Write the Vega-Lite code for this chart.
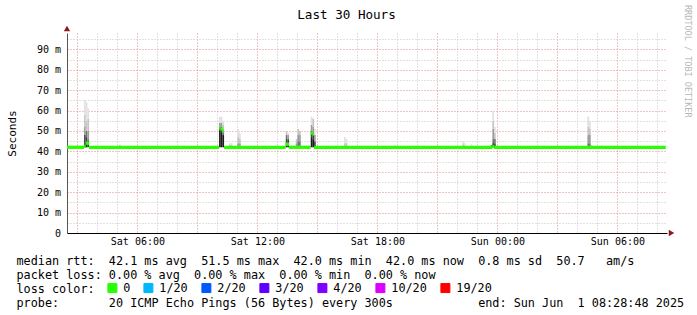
{
  "$schema": "https://vega.github.io/schema/vega-lite/v6.json",
  "width": 600,
  "height": 200,
  "autosize": {"type": "none"},
  "padding": {"left": 67, "top": 33, "right": 30, "bottom": 82},
  "background": "#ffffff",
  "config": {"view": {"stroke": null}},
  "datasets": {
    "smoke": [
      {"t":"2025-05-31T05:05","t2":"2025-05-31T05:10","lo":0.042,"hi":0.0433,"b":2},
      {"t":"2025-05-31T03:20","t2":"2025-05-31T03:25","lo":0.042,"hi":0.044,"b":6},
      {"t":"2025-05-31T03:20","t2":"2025-05-31T03:25","lo":0.044,"hi":0.048,"b":5},
      {"t":"2025-05-31T03:20","t2":"2025-05-31T03:25","lo":0.048,"hi":0.052,"b":3},
      {"t":"2025-05-31T03:20","t2":"2025-05-31T03:25","lo":0.052,"hi":0.058,"b":2},
      {"t":"2025-05-31T03:20","t2":"2025-05-31T03:25","lo":0.058,"hi":0.065,"b":1},
      {"t":"2025-05-31T03:25","t2":"2025-05-31T03:30","lo":0.042,"hi":0.044,"b":6},
      {"t":"2025-05-31T03:25","t2":"2025-05-31T03:30","lo":0.044,"hi":0.047,"b":5},
      {"t":"2025-05-31T03:25","t2":"2025-05-31T03:30","lo":0.047,"hi":0.050,"b":4},
      {"t":"2025-05-31T03:25","t2":"2025-05-31T03:30","lo":0.050,"hi":0.055,"b":2},
      {"t":"2025-05-31T03:25","t2":"2025-05-31T03:30","lo":0.055,"hi":0.064,"b":1},
      {"t":"2025-05-31T03:30","t2":"2025-05-31T03:35","lo":0.042,"hi":0.044,"b":5},
      {"t":"2025-05-31T03:30","t2":"2025-05-31T03:35","lo":0.044,"hi":0.046,"b":4},
      {"t":"2025-05-31T03:30","t2":"2025-05-31T03:35","lo":0.046,"hi":0.050,"b":3},
      {"t":"2025-05-31T03:30","t2":"2025-05-31T03:35","lo":0.050,"hi":0.056,"b":2},
      {"t":"2025-05-31T03:30","t2":"2025-05-31T03:35","lo":0.056,"hi":0.061,"b":1},
      {"t":"2025-05-31T10:05","t2":"2025-05-31T10:10","lo":0.042,"hi":0.050,"b":6},
      {"t":"2025-05-31T10:05","t2":"2025-05-31T10:10","lo":0.050,"hi":0.052,"b":5},
      {"t":"2025-05-31T10:05","t2":"2025-05-31T10:10","lo":0.052,"hi":0.054,"b":3},
      {"t":"2025-05-31T10:05","t2":"2025-05-31T10:10","lo":0.054,"hi":0.057,"b":1},
      {"t":"2025-05-31T10:10","t2":"2025-05-31T10:15","lo":0.042,"hi":0.049,"b":6},
      {"t":"2025-05-31T10:10","t2":"2025-05-31T10:15","lo":0.049,"hi":0.052,"b":5},
      {"t":"2025-05-31T10:10","t2":"2025-05-31T10:15","lo":0.052,"hi":0.054,"b":3},
      {"t":"2025-05-31T10:10","t2":"2025-05-31T10:15","lo":0.054,"hi":0.057,"b":1},
      {"t":"2025-05-31T10:15","t2":"2025-05-31T10:20","lo":0.042,"hi":0.048,"b":6},
      {"t":"2025-05-31T10:15","t2":"2025-05-31T10:20","lo":0.048,"hi":0.050,"b":4},
      {"t":"2025-05-31T10:15","t2":"2025-05-31T10:20","lo":0.050,"hi":0.053,"b":2},
      {"t":"2025-05-31T10:15","t2":"2025-05-31T10:20","lo":0.053,"hi":0.055,"b":1},
      {"t":"2025-05-31T10:35","t2":"2025-05-31T10:40","lo":0.042,"hi":0.043,"b":3},
      {"t":"2025-05-31T10:35","t2":"2025-05-31T10:40","lo":0.043,"hi":0.044,"b":1},
      {"t":"2025-05-31T10:40","t2":"2025-05-31T10:45","lo":0.042,"hi":0.043,"b":2},
      {"t":"2025-05-31T10:40","t2":"2025-05-31T10:45","lo":0.043,"hi":0.044,"b":1},
      {"t":"2025-05-31T11:00","t2":"2025-05-31T11:05","lo":0.042,"hi":0.044,"b":3},
      {"t":"2025-05-31T11:00","t2":"2025-05-31T11:05","lo":0.044,"hi":0.047,"b":2},
      {"t":"2025-05-31T11:00","t2":"2025-05-31T11:05","lo":0.047,"hi":0.051,"b":1},
      {"t":"2025-05-31T11:05","t2":"2025-05-31T11:10","lo":0.042,"hi":0.044,"b":3},
      {"t":"2025-05-31T11:05","t2":"2025-05-31T11:10","lo":0.044,"hi":0.046,"b":2},
      {"t":"2025-05-31T11:05","t2":"2025-05-31T11:10","lo":0.046,"hi":0.049,"b":1},
      {"t":"2025-05-31T13:25","t2":"2025-05-31T13:30","lo":0.042,"hi":0.044,"b":6},
      {"t":"2025-05-31T13:25","t2":"2025-05-31T13:30","lo":0.044,"hi":0.046,"b":5},
      {"t":"2025-05-31T13:25","t2":"2025-05-31T13:30","lo":0.046,"hi":0.048,"b":4},
      {"t":"2025-05-31T13:25","t2":"2025-05-31T13:30","lo":0.048,"hi":0.050,"b":2},
      {"t":"2025-05-31T13:30","t2":"2025-05-31T13:35","lo":0.042,"hi":0.044,"b":6},
      {"t":"2025-05-31T13:30","t2":"2025-05-31T13:35","lo":0.044,"hi":0.046,"b":5},
      {"t":"2025-05-31T13:30","t2":"2025-05-31T13:35","lo":0.046,"hi":0.048,"b":3},
      {"t":"2025-05-31T13:30","t2":"2025-05-31T13:35","lo":0.048,"hi":0.049,"b":1},
      {"t":"2025-05-31T13:55","t2":"2025-05-31T14:00","lo":0.042,"hi":0.044,"b":3},
      {"t":"2025-05-31T13:55","t2":"2025-05-31T14:00","lo":0.044,"hi":0.046,"b":2},
      {"t":"2025-05-31T14:00","t2":"2025-05-31T14:05","lo":0.042,"hi":0.045,"b":4},
      {"t":"2025-05-31T14:00","t2":"2025-05-31T14:05","lo":0.045,"hi":0.048,"b":3},
      {"t":"2025-05-31T14:00","t2":"2025-05-31T14:05","lo":0.048,"hi":0.051,"b":2},
      {"t":"2025-05-31T14:05","t2":"2025-05-31T14:10","lo":0.042,"hi":0.045,"b":4},
      {"t":"2025-05-31T14:05","t2":"2025-05-31T14:10","lo":0.045,"hi":0.048,"b":3},
      {"t":"2025-05-31T14:05","t2":"2025-05-31T14:10","lo":0.048,"hi":0.050,"b":2},
      {"t":"2025-05-31T14:40","t2":"2025-05-31T14:45","lo":0.042,"hi":0.047,"b":6},
      {"t":"2025-05-31T14:40","t2":"2025-05-31T14:45","lo":0.047,"hi":0.050,"b":5},
      {"t":"2025-05-31T14:40","t2":"2025-05-31T14:45","lo":0.050,"hi":0.053,"b":3},
      {"t":"2025-05-31T14:40","t2":"2025-05-31T14:45","lo":0.053,"hi":0.057,"b":1},
      {"t":"2025-05-31T14:45","t2":"2025-05-31T14:50","lo":0.042,"hi":0.046,"b":6},
      {"t":"2025-05-31T14:45","t2":"2025-05-31T14:50","lo":0.046,"hi":0.049,"b":5},
      {"t":"2025-05-31T14:45","t2":"2025-05-31T14:50","lo":0.049,"hi":0.052,"b":3},
      {"t":"2025-05-31T14:45","t2":"2025-05-31T14:50","lo":0.052,"hi":0.056,"b":2},
      {"t":"2025-05-31T14:50","t2":"2025-05-31T14:55","lo":0.042,"hi":0.045,"b":5},
      {"t":"2025-05-31T14:50","t2":"2025-05-31T14:55","lo":0.045,"hi":0.048,"b":3},
      {"t":"2025-05-31T14:50","t2":"2025-05-31T14:55","lo":0.048,"hi":0.051,"b":1},
      {"t":"2025-05-31T16:20","t2":"2025-05-31T16:25","lo":0.042,"hi":0.044,"b":2},
      {"t":"2025-05-31T16:20","t2":"2025-05-31T16:25","lo":0.044,"hi":0.047,"b":1},
      {"t":"2025-05-31T16:25","t2":"2025-05-31T16:30","lo":0.042,"hi":0.044,"b":2},
      {"t":"2025-05-31T16:25","t2":"2025-05-31T16:30","lo":0.044,"hi":0.046,"b":1},
      {"t":"2025-05-31T18:50","t2":"2025-05-31T18:55","lo":0.042,"hi":0.0433,"b":1},
      {"t":"2025-05-31T22:15","t2":"2025-05-31T22:20","lo":0.042,"hi":0.0435,"b":2},
      {"t":"2025-05-31T22:15","t2":"2025-05-31T22:20","lo":0.0435,"hi":0.045,"b":1},
      {"t":"2025-05-31T22:20","t2":"2025-05-31T22:25","lo":0.042,"hi":0.044,"b":1},
      {"t":"2025-05-31T22:40","t2":"2025-05-31T22:45","lo":0.042,"hi":0.0435,"b":1},
      {"t":"2025-05-31T23:40","t2":"2025-05-31T23:45","lo":0.042,"hi":0.043,"b":5},
      {"t":"2025-05-31T23:45","t2":"2025-05-31T23:50","lo":0.042,"hi":0.044,"b":6},
      {"t":"2025-05-31T23:45","t2":"2025-05-31T23:50","lo":0.044,"hi":0.046,"b":4},
      {"t":"2025-05-31T23:45","t2":"2025-05-31T23:50","lo":0.046,"hi":0.051,"b":3},
      {"t":"2025-05-31T23:45","t2":"2025-05-31T23:50","lo":0.051,"hi":0.055,"b":2},
      {"t":"2025-05-31T23:45","t2":"2025-05-31T23:50","lo":0.055,"hi":0.060,"b":1},
      {"t":"2025-05-31T23:50","t2":"2025-05-31T23:55","lo":0.042,"hi":0.044,"b":5},
      {"t":"2025-05-31T23:50","t2":"2025-05-31T23:55","lo":0.044,"hi":0.046,"b":4},
      {"t":"2025-05-31T23:50","t2":"2025-05-31T23:55","lo":0.046,"hi":0.049,"b":2},
      {"t":"2025-05-31T23:50","t2":"2025-05-31T23:55","lo":0.049,"hi":0.052,"b":1},
      {"t":"2025-06-01T04:30","t2":"2025-06-01T04:35","lo":0.042,"hi":0.044,"b":4},
      {"t":"2025-06-01T04:30","t2":"2025-06-01T04:35","lo":0.044,"hi":0.048,"b":3},
      {"t":"2025-06-01T04:30","t2":"2025-06-01T04:35","lo":0.048,"hi":0.052,"b":2},
      {"t":"2025-06-01T04:30","t2":"2025-06-01T04:35","lo":0.052,"hi":0.057,"b":1},
      {"t":"2025-06-01T04:35","t2":"2025-06-01T04:40","lo":0.042,"hi":0.044,"b":4},
      {"t":"2025-06-01T04:35","t2":"2025-06-01T04:40","lo":0.044,"hi":0.048,"b":3},
      {"t":"2025-06-01T04:35","t2":"2025-06-01T04:40","lo":0.048,"hi":0.051,"b":2},
      {"t":"2025-06-01T04:35","t2":"2025-06-01T04:40","lo":0.051,"hi":0.055,"b":1},
      {"t":"2025-06-01T04:40","t2":"2025-06-01T04:45","lo":0.042,"hi":0.043,"b":2},
      {"t":"2025-06-01T05:10","t2":"2025-06-01T05:15","lo":0.042,"hi":0.043,"b":1}
    ],
    "median": [
      {"t":"2025-05-31T02:28:48","t2":"2025-05-31T03:20","m":0.042,"loss":"0"},
      {"t":"2025-05-31T03:20","t2":"2025-05-31T03:25","m":0.0425,"loss":"0"},
      {"t":"2025-05-31T03:25","t2":"2025-05-31T03:35","m":0.044,"loss":"0"},
      {"t":"2025-05-31T03:35","t2":"2025-05-31T10:05","m":0.042,"loss":"0"},
      {"t":"2025-05-31T10:05","t2":"2025-05-31T10:10","m":0.0515,"loss":"0"},
      {"t":"2025-05-31T10:10","t2":"2025-05-31T10:15","m":0.051,"loss":"0"},
      {"t":"2025-05-31T10:15","t2":"2025-05-31T10:20","m":0.050,"loss":"0"},
      {"t":"2025-05-31T10:20","t2":"2025-05-31T13:25","m":0.042,"loss":"0"},
      {"t":"2025-05-31T13:25","t2":"2025-05-31T13:35","m":0.0435,"loss":"0"},
      {"t":"2025-05-31T13:35","t2":"2025-05-31T14:40","m":0.042,"loss":"0"},
      {"t":"2025-05-31T14:40","t2":"2025-05-31T14:45","m":0.049,"loss":"0"},
      {"t":"2025-05-31T14:45","t2":"2025-05-31T14:50","m":0.0485,"loss":"0"},
      {"t":"2025-05-31T14:50","t2":"2025-05-31T23:45","m":0.042,"loss":"0"},
      {"t":"2025-05-31T23:45","t2":"2025-05-31T23:50","m":0.0425,"loss":"0"},
      {"t":"2025-05-31T23:50","t2":"2025-06-01T08:25","m":0.042,"loss":"0"}
    ]
  },
  "layer": [
    {
      "data": {"name": "smoke"},
      "mark": {"type": "rect", "strokeWidth": 0},
      "encoding": {
        "x": {"field": "t", "type": "temporal",
              "scale": {"domain": [{"year":2025,"month":5,"date":31,"hours":2,"minutes":28,"seconds":48},{"year":2025,"month":6,"date":1,"hours":8,"minutes":28,"seconds":48}], "nice": false},
              "axis": {"orient": "bottom", "labels": false, "ticks": false, "domain": false, "grid": true, "gridColor": "#c4c4c4", "gridDash": [1, 2], "gridWidth": 1, "title": null,
                       "values": [
                         {"year":2025,"month":5,"date":31,"hours":4},{"year":2025,"month":5,"date":31,"hours":5},
                         {"year":2025,"month":5,"date":31,"hours":7},{"year":2025,"month":5,"date":31,"hours":8},
                         {"year":2025,"month":5,"date":31,"hours":10},{"year":2025,"month":5,"date":31,"hours":11},
                         {"year":2025,"month":5,"date":31,"hours":13},{"year":2025,"month":5,"date":31,"hours":14},
                         {"year":2025,"month":5,"date":31,"hours":16},{"year":2025,"month":5,"date":31,"hours":17},
                         {"year":2025,"month":5,"date":31,"hours":19},{"year":2025,"month":5,"date":31,"hours":20},
                         {"year":2025,"month":5,"date":31,"hours":22},{"year":2025,"month":5,"date":31,"hours":23},
                         {"year":2025,"month":6,"date":1,"hours":1},{"year":2025,"month":6,"date":1,"hours":2},
                         {"year":2025,"month":6,"date":1,"hours":4},{"year":2025,"month":6,"date":1,"hours":5},
                         {"year":2025,"month":6,"date":1,"hours":7},{"year":2025,"month":6,"date":1,"hours":8}
                       ]}},
        "x2": {"field": "t2"},
        "y": {"field": "lo", "type": "quantitative",
              "scale": {"domain": [0, 0.098], "nice": false, "zero": false},
              "axis": {"orient": "left", "labels": false, "ticks": false, "domain": false, "grid": true, "gridColor": "#c4c4c4", "gridDash": [1, 2], "gridWidth": 1, "title": null,
                       "values": [0.005, 0.015, 0.025, 0.035, 0.045, 0.055, 0.065, 0.075, 0.085, 0.095]}},
        "y2": {"field": "hi"},
        "fill": {"field": "b", "type": "ordinal",
                 "scale": {"domain": [1, 2, 3, 4, 5, 6], "range": ["#e0e0e0", "#c4c4c4", "#9c9c9c", "#747474", "#444444", "#1c1c1c"]},
                 "legend": null}
      }
    },
    {
      "data": {"name": "median"},
      "mark": {"type": "rule", "strokeWidth": 3.3, "strokeCap": "butt"},
      "encoding": {
        "x": {"field": "t", "type": "temporal",
              "scale": {"domain": [{"year":2025,"month":5,"date":31,"hours":2,"minutes":28,"seconds":48},{"year":2025,"month":6,"date":1,"hours":8,"minutes":28,"seconds":48}], "nice": false},
              "axis": {"orient": "bottom",
                       "values": [
                         {"year":2025,"month":5,"date":31,"hours":3},{"year":2025,"month":5,"date":31,"hours":6},
                         {"year":2025,"month":5,"date":31,"hours":9},{"year":2025,"month":5,"date":31,"hours":12},
                         {"year":2025,"month":5,"date":31,"hours":15},{"year":2025,"month":5,"date":31,"hours":18},
                         {"year":2025,"month":5,"date":31,"hours":21},{"year":2025,"month":6,"date":1,"hours":0},
                         {"year":2025,"month":6,"date":1,"hours":3},{"year":2025,"month":6,"date":1,"hours":6}
                       ],
                       "labelExpr": "hours(datum.value) % 6 == 0 ? timeFormat(datum.value, '%a %H:%M') : ''",
                       "labelFont": "DejaVu Sans Mono", "labelFontSize": 10, "labelColor": "#000000", "labelPadding": 3.5,
                       "labelOverlap": false, "labelFlush": false, "labelBound": false,
                       "ticks": false, "tickSize": 0,
                       "domain": true, "domainColor": "#000000", "domainWidth": 1,
                       "grid": true, "gridColor": "#e08888", "gridDash": [1, 2], "gridWidth": 1,
                       "title": [
                         "median\u00a0rtt:\u00a0\u00a042.1\u00a0ms\u00a0avg\u00a0\u00a051.5\u00a0ms\u00a0max\u00a0\u00a042.0\u00a0ms\u00a0min\u00a0\u00a042.0\u00a0ms\u00a0now\u00a0\u00a00.8\u00a0ms\u00a0sd\u00a0\u00a050.7\u00a0\u00a0\u00a0am/s",
                         "packet\u00a0loss:\u00a00.00\u00a0%\u00a0avg\u00a0\u00a00.00\u00a0%\u00a0max\u00a0\u00a00.00\u00a0%\u00a0min\u00a0\u00a00.00\u00a0%\u00a0now",
                         "loss\u00a0color:",
                         "probe:\u00a0\u00a0\u00a0\u00a0\u00a0\u00a0\u00a020\u00a0ICMP\u00a0Echo\u00a0Pings\u00a0(56\u00a0Bytes)\u00a0every\u00a0300s\u00a0\u00a0\u00a0\u00a0\u00a0\u00a0\u00a0\u00a0\u00a0\u00a0\u00a0\u00a0end:\u00a0Sun\u00a0Jun\u00a0\u00a01\u00a008:28:48\u00a02025"
                       ],
                       "titleFont": "DejaVu Sans Mono", "titleFontSize": 11.8, "titleFontWeight": "normal", "titleColor": "#000000",
                       "titleAlign": "left", "titleAnchor": "start", "titleX": -51, "titleY": 31, "titleBaseline": "alphabetic",
                       "titleLineHeight": 14, "titleLimit": 1000}},
        "x2": {"field": "t2"},
        "y": {"field": "m", "type": "quantitative",
              "scale": {"domain": [0, 0.098], "nice": false, "zero": false},
              "axis": {"orient": "left",
                       "values": [0, 0.01, 0.02, 0.03, 0.04, 0.05, 0.06, 0.07, 0.08, 0.09],
                       "labelExpr": "datum.value == 0 ? '0\u00a0\u00a0' : round(datum.value * 1000) + '\u00a0m'",
                       "labelFont": "DejaVu Sans Mono", "labelFontSize": 10, "labelColor": "#000000", "labelPadding": 6.5,
                       "labelOverlap": false, "labelFlush": false, "labelBound": false,
                       "ticks": false, "tickSize": 0,
                       "domain": true, "domainColor": "#555555", "domainWidth": 1,
                       "grid": true, "gridColor": "#e08888", "gridDash": [1, 2], "gridWidth": 1,
                       "title": "Seconds", "titleFont": "DejaVu Sans Mono", "titleFontSize": 11, "titleFontWeight": "normal", "titleColor": "#000000",
                       "titleAngle": -90, "titleX": -52, "titleY": 100, "titleAlign": "center", "titleBaseline": "alphabetic"}},
        "color": {"field": "loss", "type": "nominal",
                  "scale": {"domain": ["0", "1/20", "2/20", "3/20", "4/20", "10/20", "19/20"],
                            "range": ["#26ff00", "#00b8ff", "#0059ff", "#5e00ff", "#7e00ff", "#dd00ff", "#ff0000"]},
                  "legend": {"title": null, "orient": "none", "legendX": 39.5, "legendY": 249,
                             "direction": "horizontal",
                             "labelFont": "DejaVu Sans Mono", "labelFontSize": 11.8, "labelColor": "#000000", "labelOffset": 5,
                             "columnPadding": 11, "padding": 0,
                             "symbolType": "square", "symbolSize": 81, "symbolStrokeColor": "#000000", "symbolStrokeWidth": 1, "symbolOpacity": 1,
                             "encode": {"symbols": {"update": {"fill": {"scale": "color", "field": "value"}, "stroke": {"value": "#000000"}, "strokeWidth": {"value": 1}, "opacity": {"value": 1}}}}}}
      }
    },
    {
      "data": {"values": [{}]},
      "mark": {"type": "point", "shape": "triangle-right", "filled": true, "color": "#8b1a1a", "size": 40, "opacity": 1},
      "encoding": {
        "x": {"datum": {"year":2025,"month":6,"date":1,"hours":8,"minutes":42,"seconds":18}, "type": "temporal",
              "scale": {"domain": [{"year":2025,"month":5,"date":31,"hours":2,"minutes":28,"seconds":48},{"year":2025,"month":6,"date":1,"hours":8,"minutes":28,"seconds":48}], "nice": false},
              "axis": null},
        "y": {"datum": 0, "type": "quantitative",
              "scale": {"domain": [0, 0.098], "nice": false, "zero": false},
              "axis": {"orient": "right", "labels": false, "ticks": false, "domain": false, "grid": false,
                       "title": "RRDTOOL / TOBI OETIKER", "titleFont": "DejaVu Sans Mono", "titleFontSize": 8.5, "titleFontWeight": "normal",
                       "titleColor": "#b8b8b8", "titleAngle": 90, "titleX": 17.3, "titleY": -28.5, "titleAlign": "left", "titleBaseline": "alphabetic"}}
      }
    },
    {
      "data": {"values": [{}]},
      "mark": {"type": "point", "shape": "triangle-up", "filled": true, "color": "#8b1a1a", "size": 40, "opacity": 1},
      "encoding": {
        "x": {"datum": {"year":2025,"month":5,"date":31,"hours":2,"minutes":28,"seconds":48}, "type": "temporal",
              "scale": {"domain": [{"year":2025,"month":5,"date":31,"hours":2,"minutes":28,"seconds":48},{"year":2025,"month":6,"date":1,"hours":8,"minutes":28,"seconds":48}], "nice": false},
              "axis": {"orient": "top", "labels": false, "ticks": false, "domain": false, "grid": false,
                       "title": "Last 30 Hours", "titleFont": "DejaVu Sans Mono", "titleFontSize": 12.6, "titleFontWeight": "normal", "titleColor": "#000000",
                       "titleX": 279, "titleY": -14.7, "titleAlign": "center", "titleBaseline": "alphabetic"}},
        "y": {"datum": 0.1002, "type": "quantitative",
              "scale": {"domain": [0, 0.098], "nice": false, "zero": false},
              "axis": null}
      }
    }
  ],
  "resolve": {"axis": {"x": "independent", "y": "independent"}}
}
